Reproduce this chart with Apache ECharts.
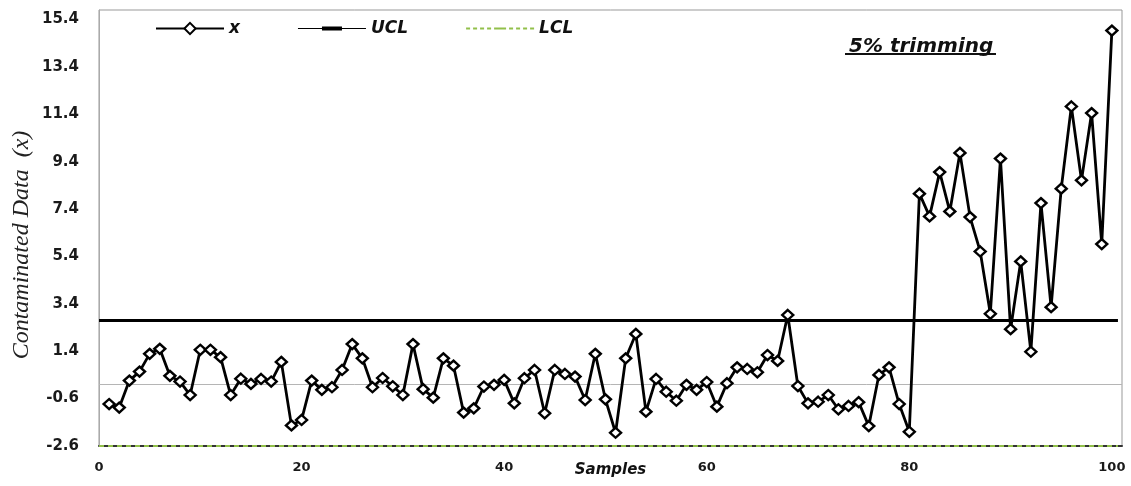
<!DOCTYPE html>
<html>
<head>
<meta charset="utf-8">
<script src="https://cdn.jsdelivr.net/npm/echarts@6/dist/echarts.min.js"></script>
<style>
  html, body { margin: 0; padding: 0; background: #fff; }
  #chart { width: 1131px; height: 486px; }
</style>
</head>
<body>
<div id="chart"></div>
<script>
// contaminated sample values (samples 1..100)
const xValues = [
  -0.83, -0.98, 0.16, 0.54, 1.29, 1.50, 0.36, 0.12, -0.45, 1.46,
  1.46, 1.15, -0.45, 0.24, 0.02, 0.23, 0.12, 0.95, -1.73, -1.50,
  0.16, -0.23, -0.12, 0.61, 1.70, 1.10, -0.12, 0.27, -0.08, -0.45,
  1.70, -0.20, -0.56, 1.10, 0.79, -1.19, -1.01, -0.09, -0.02, 0.19,
  -0.80, 0.26, 0.61, -1.22, 0.61, 0.44, 0.33, -0.66, 1.29, -0.63,
  -2.04, 1.10, 2.13, -1.15, 0.23, -0.31, -0.69, -0.02, -0.23, 0.10,
  -0.94, 0.05, 0.72, 0.65, 0.51, 1.24, 0.99, 2.93, -0.07, -0.80,
  -0.73, -0.45, -1.05, -0.91, -0.75, -1.76, 0.40, 0.72, -0.83, -2.00,
  8.05, 7.09, 8.96, 7.30, 9.77, 7.06, 5.61, 2.98, 9.53, 2.33,
  5.19, 1.38, 7.65, 3.26, 8.26, 11.73, 8.61, 11.45, 5.92, 14.93
]
// control limits
const uclValue = 2.7
const lclValue = -2.6
const centerValue = 0
// x range the limit lines run across
const limitSpan = [0, 100.6]

const yTicks = { min: -2.6, max: 15.8, interval: 2 }
const xTicks = { min: 0, max: 101, interval: 20 }

const chart = echarts.init(document.getElementById('chart'))

const xData = xValues.map((v, i) => [i + 1, v])
const uclData = limitSpan.map(x => [x, uclValue])
const lclData = limitSpan.map(x => [x, lclValue])

const boldLabel = { fontFamily: 'DejaVu Sans', fontWeight: 'bold', color: '#1a1a1a' }
const boldItalic = { fontFamily: 'DejaVu Sans', fontStyle: 'italic', fontWeight: 'bold', color: '#111' }

// legend icons for the limit lines (plain line / dotted line)
const uclIcon = 'path://M0,3H68V4H0Z M24,1.5H44V5.5H24Z'
const lclIcon = 'path://M0,2H4V4H0Z M7,2H11V4H7Z M14,2H18V4H14Z M21,2H25V4H21Z M28,2H40V4H28Z M43,2H47V4H43Z M50,2H54V4H50Z M57,2H61V4H57Z M64,2H68V4H64Z'

chart.setOption({
  backgroundColor: '#fff',
  animation: false,
  title: {
    text: '5% trimming',
    left: 844,
    top: 32,
    textStyle: { ...boldItalic, fontSize: 20 }
  },
  graphic: [
    // underline of the note
    { type: 'line', shape: { x1: 845, y1: 54, x2: 996, y2: 54 }, style: { stroke: '#111', lineWidth: 2 } },
    {
      type: 'text',
      x: 22,
      y: 245,
      rotation: Math.PI / 2,
      style: {
        text: 'Contaminated Data  (x)',
        fontFamily: 'Liberation Serif',
        fontStyle: 'italic',
        fontSize: 24,
        fill: '#222',
        align: 'center',
        verticalAlign: 'middle'
      }
    }
  ],
  legend: {
    data: [
      { name: 'x' },
      { name: 'UCL', icon: uclIcon },
      { name: 'LCL', icon: lclIcon }
    ],
    left: 155,
    top: 20,
    padding: 0,
    itemWidth: 68,
    itemHeight: 14,
    itemGap: 58,
    textStyle: { ...boldItalic, fontSize: 17 }
  },
  grid: {
    left: 99,
    right: 9,
    top: 10,
    bottom: 40,
    containLabel: false,
    outerBoundsMode: 'none',
    show: true,
    borderColor: '#999',
    borderWidth: 1
  },
  xAxis: {
    type: 'value',
    min: xTicks.min,
    max: xTicks.max,
    interval: xTicks.interval,
    name: 'Samples',
    nameLocation: 'middle',
    nameGap: 17,
    nameMoveOverlap: false,
    nameTextStyle: { ...boldItalic, fontSize: 15 },
    axisLine: { onZero: false, lineStyle: { color: '#333', width: 2 } },
    axisTick: { show: false },
    splitLine: { show: false },
    axisLabel: { ...boldLabel, fontSize: 13, margin: 15, showMaxLabel: false }
  },
  yAxis: {
    type: 'value',
    min: yTicks.min,
    max: yTicks.max,
    interval: yTicks.interval,
    axisLine: { show: true, lineStyle: { color: '#aaa', width: 1 } },
    axisTick: { show: false },
    splitLine: { show: false },
    axisLabel: { ...boldLabel, fontSize: 15, margin: 20, showMaxLabel: false }
  },
  series: [
    {
      name: 'UCL',
      type: 'line',
      data: uclData,
      symbol: 'none',
      z: 3,
      lineStyle: { color: '#000', width: 3 },
      itemStyle: { color: '#000' },
      markLine: {
        silent: true,
        symbol: 'none',
        label: { show: false },
        lineStyle: { color: '#b5b5b5', width: 1, type: 'solid' },
        data: [{ yAxis: centerValue }]
      }
    },
    {
      name: 'LCL',
      type: 'line',
      data: lclData,
      symbol: 'none',
      z: 3,
      lineStyle: { color: '#92c04a', width: 2, type: [5, 4] },
      itemStyle: { color: '#92c04a' }
    },
    {
      name: 'x',
      type: 'line',
      data: xData,
      z: 5,
      symbol: 'diamond',
      symbolSize: [11, 10],
      lineStyle: { color: '#000', width: 2.8 },
      itemStyle: { color: '#fff', borderColor: '#000', borderWidth: 2.4 }
    }
  ]
})
</script>
</body>
</html>
